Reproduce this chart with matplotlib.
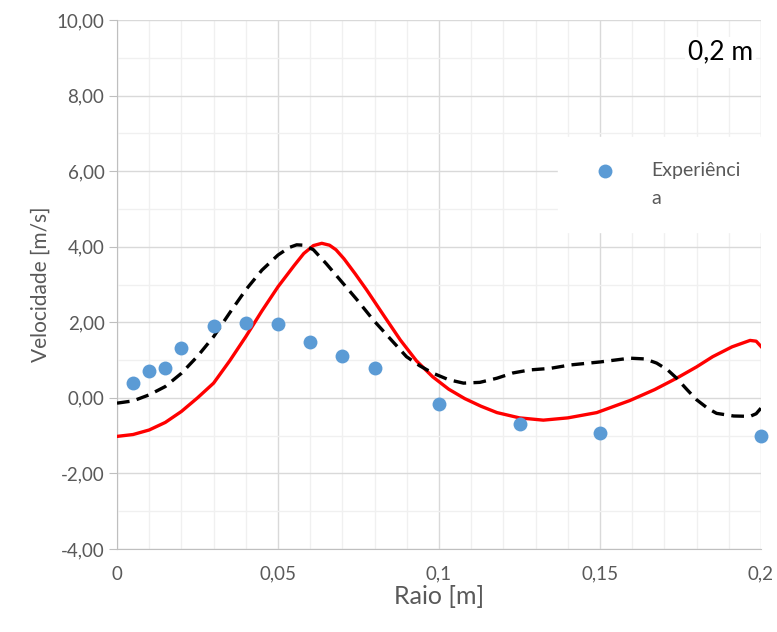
import matplotlib.pyplot as plt
from matplotlib.ticker import MultipleLocator, FuncFormatter

plt.rcParams['font.family'] = ['Lato', 'DejaVu Sans']

# pontos experimentais
raio_exp = [0.005, 0.01, 0.015, 0.02, 0.03, 0.04, 0.05, 0.06, 0.07, 0.08, 0.1, 0.125, 0.15, 0.2]
vel_exp = [0.38, 0.70, 0.78, 1.31, 1.90, 1.99, 1.95, 1.49, 1.11, 0.78, -0.17, -0.70, -0.92, -1.01]

# curva vermelha (modelo)
raio_red = [0.0, 0.005, 0.010, 0.015, 0.020, 0.025, 0.030, 0.035, 0.040, 0.045, 0.050, 0.055,
            0.058, 0.061, 0.0636, 0.066, 0.068, 0.0705, 0.074, 0.0775, 0.083, 0.088, 0.093,
            0.098, 0.103, 0.108, 0.113, 0.118, 0.125, 0.1324, 0.140, 0.149, 0.1593, 0.167,
            0.1738, 0.180, 0.185, 0.191, 0.1966, 0.1985, 0.200]
vel_red = [-1.02, -0.97, -0.85, -0.65, -0.36, 0.00, 0.39, 0.98, 1.62, 2.30, 2.94, 3.50,
           3.82, 4.03, 4.09, 4.04, 3.92, 3.68, 3.28, 2.86, 2.16, 1.53, 0.98,
           0.56, 0.23, -0.02, -0.22, -0.39, -0.53, -0.59, -0.53, -0.39, -0.07, 0.22,
           0.52, 0.82, 1.09, 1.35, 1.52, 1.50, 1.36]

# curva tracejada (modelo 2)
raio_blk = [0.0, 0.005, 0.010, 0.015, 0.020, 0.025, 0.030, 0.035, 0.040, 0.045, 0.050, 0.0535,
            0.0558, 0.058, 0.061, 0.065, 0.0693, 0.0745, 0.0796, 0.085, 0.0899, 0.094, 0.0982,
            0.103, 0.1076, 0.1127, 0.118, 0.123, 0.1283, 0.1345, 0.1407, 0.150, 0.1593, 0.1640,
            0.1676, 0.1710, 0.1738, 0.177, 0.180, 0.1835, 0.1862, 0.1915, 0.1966, 0.1985, 0.200]
vel_blk = [-0.14, -0.08, 0.08, 0.30, 0.65, 1.10, 1.62, 2.25, 2.86, 3.38, 3.78, 3.98,
           4.05, 4.04, 3.92, 3.55, 3.12, 2.60, 2.06, 1.55, 1.09, 0.85, 0.65,
           0.48, 0.39, 0.41, 0.52, 0.66, 0.74, 0.78, 0.87, 0.95, 1.05, 1.03,
           0.92, 0.74, 0.52, 0.22, -0.05, -0.28, -0.41, -0.48, -0.49, -0.42, -0.27]

fig = plt.figure(figsize=(7.77, 6.32), dpi=100)
ax = fig.add_axes([117/777, 1-549/632, (761-117)/777, (549-20)/632])

ax.set_xlim(0, 0.2)
ax.set_ylim(-4, 10)
ax.xaxis.set_major_locator(MultipleLocator(0.05))
ax.xaxis.set_minor_locator(MultipleLocator(0.01))
ax.yaxis.set_major_locator(MultipleLocator(2))
ax.yaxis.set_minor_locator(MultipleLocator(1))

ax.xaxis.set_major_formatter(FuncFormatter(lambda v, p: ('%g' % round(v, 3)).replace('.', ',')))
ax.yaxis.set_major_formatter(FuncFormatter(lambda v, p: ('%.2f' % v).replace('.', ',')))

ax.grid(which='major', color='#D9D9D9', linewidth=1.0, zorder=0)
ax.grid(which='minor', color='#F0F0F0', linewidth=1.0, zorder=0)
ax.set_axisbelow(True)

for s in ['top', 'right']:
    ax.spines[s].set_visible(False)
ax.spines['left'].set_color('#BFBFBF')
ax.spines['bottom'].set_color('#BFBFBF')

ax.tick_params(axis='y', which='major', length=6, color='#BFBFBF', labelsize=13.5,
               labelcolor='#595959', pad=3)
ax.tick_params(axis='y', which='minor', length=0)
ax.tick_params(axis='x', which='both', length=0, labelsize=13.5, labelcolor='#595959', pad=12)

ax.plot(raio_red, vel_red, color='#FF0000', linewidth=2.4, zorder=3)
ax.plot(raio_blk, vel_blk, color='black', linewidth=2.4, linestyle=(0, (3.8, 2.2)), zorder=3)
ax.plot(raio_exp, vel_exp, 'o', color='#5B9BD5', markersize=10, markeredgewidth=0,
        zorder=4, label='Experiênci\na', clip_on=False)

ax.set_xlabel('Raio [m]', fontsize=18, color='#595959', labelpad=2)
ax.set_ylabel('Velocidade [m/s]', fontsize=15, color='#595959', labelpad=4)

leg = ax.legend(loc='upper left', bbox_to_anchor=((558-117)/644, (549-137)/529),
                frameon=True, fontsize=14, handletextpad=1.3, borderpad=1.3,
                handlelength=2.2, labelcolor='#595959', borderaxespad=0)
leg.get_texts()[0].set_linespacing(1.75)
# marcador alinhado com a primeira linha do texto
h = leg.legend_handles[0]
h.set_ydata([v + 10 for v in h.get_ydata()])
leg.get_frame().set_edgecolor('white')
leg.get_frame().set_facecolor('white')
leg.get_frame().set_alpha(1)

ax.text(0.1975, 9.15, '0,2 m', fontsize=19, color='black', ha='right', va='center',
        bbox=dict(facecolor='white', edgecolor='none', pad=2), zorder=5)

fig.savefig('out.png', dpi=100)
